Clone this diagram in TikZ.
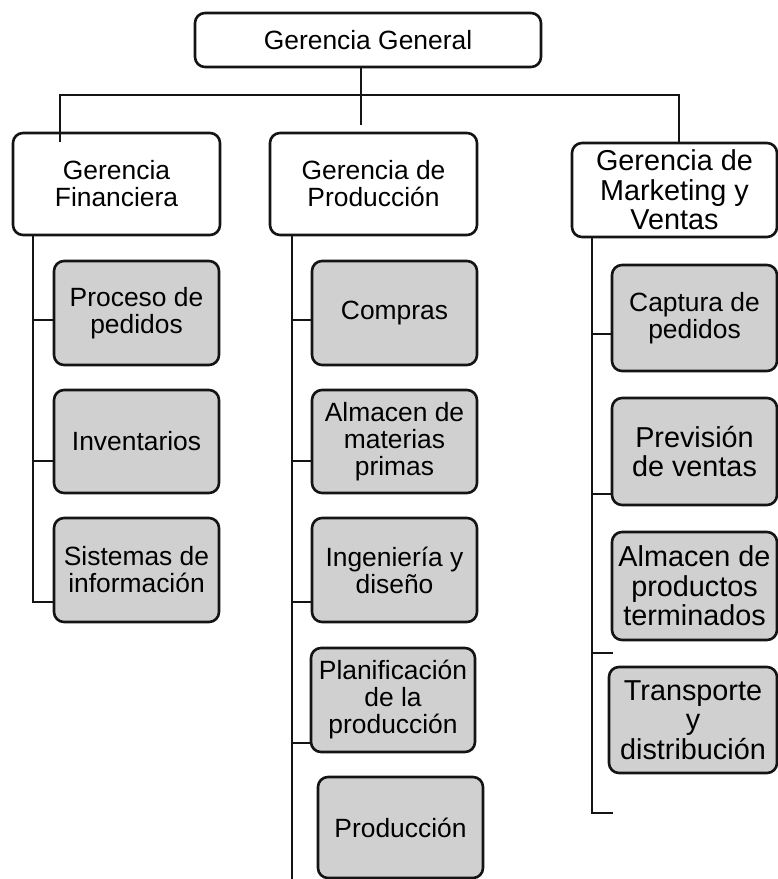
\documentclass[tikz,border=0pt]{standalone}
\usepackage{fontspec}
\setmainfont{Liberation Sans}
\definecolor{boxgray}{RGB}{208,208,208}
\definecolor{inkline}{RGB}{20,20,20}
\begin{document}
\begin{tikzpicture}[x=1pt,y=-1pt,
  hbox/.style={draw=inkline, line width=2.6pt, rounded corners=10pt, fill=white, align=center, inner sep=0pt, font=\fontsize{26.4}{27}\selectfont},
  sbox/.style={hbox, fill=boxgray},
  bigtext/.style={font=\fontsize{28.8}{29.5}\selectfont},
  thinline/.style={draw=inkline, line width=1.1pt},
  barline/.style={draw=inkline, line width=2.8pt}]
\useasboundingbox (0,0) rectangle (778,879);

% top
\node[hbox, minimum width=346pt, minimum height=54pt] (gg) at (368,40) {Gerencia General};
% level 2
\node[hbox, minimum width=207pt, minimum height=102pt] (fin) at (116.5,184) {Gerencia\\Financiera};
\node[hbox, minimum width=207pt, minimum height=102pt] (prod) at (373.5,184) {Gerencia de\\Producción};
\node[hbox, bigtext, minimum width=205pt, minimum height=94pt] (mkt) at (674.5,190) {Gerencia de\\Marketing y\\Ventas};

% financiera
\node[sbox, minimum width=165pt, minimum height=104pt] (pp) at (136.5,313) {Proceso de\\pedidos};
\node[sbox, minimum width=165pt, minimum height=103pt] (inv) at (136.5,441.5) {Inventarios};
\node[sbox, minimum width=165pt, minimum height=104pt] (sis) at (136.5,570) {Sistemas de\\información};

% produccion
\node[sbox, minimum width=165pt, minimum height=104pt] (com) at (394.5,313) {Compras};
\node[sbox, minimum width=165pt, minimum height=103pt] (alm) at (394.5,441.5) {Almacen de\\materias\\primas};
\node[sbox, minimum width=165pt, minimum height=104pt] (ing) at (394.5,570) {Ingeniería y\\diseño};
\node[sbox, minimum width=164pt, minimum height=104pt] (pla) at (393,700) {Planificación\\de la\\producción};
\node[sbox, minimum width=165pt, minimum height=101pt] (pro) at (400.5,827.5) {Producción};

% marketing
\node[sbox, minimum width=165pt, minimum height=106pt] (cap) at (694.5,318) {Captura de\\pedidos};
\node[sbox, bigtext, minimum width=165pt, minimum height=107pt] (pre) at (694.5,451.5) {Previsión\\de ventas};
\node[sbox, bigtext, minimum width=165pt, minimum height=108pt] (apt) at (694.5,586) {Almacen de\\productos\\terminados};
\node[sbox, bigtext, minimum width=168pt, minimum height=106pt] (tra) at (693,720) {Transporte\\y\\distribución};

% top connectors
\coordinate (stem) at (361,125);
\coordinate (hl) at (60,95);
\coordinate (hr) at (679,95);
\coordinate (fintop) at (60,142);
\draw[thinline] (stem |- gg.south) -- (stem);
\draw[thinline] (fintop) -- (hl) -- (hr) -- (hr |- mkt.north);

% financiera bar
\coordinate (fb) at (33,602);
\draw[barline] (fin.south -| fb) -- (fb) -- (fb -| sis.west);
\draw[barline] (33,320) -- (pp.west |- 33,320);
\draw[barline] (33,461) -- (inv.west |- 33,461);

% produccion bar
\coordinate (pb) at (292,879);
\draw[barline] (prod.south -| pb) -- (pb);
\draw[barline] (292,320) -- (com.west |- 292,320);
\draw[barline] (292,461) -- (alm.west |- 292,461);
\draw[barline] (292,602) -- (ing.west |- 292,602);
\draw[barline] (292,743) -- (pla.west |- 292,743);

% marketing bar
\coordinate (mb) at (592,813);
\coordinate (mend1) at (613,653);
\coordinate (mend2) at (613,813);
\draw[barline] (mkt.south -| mb) -- (mb) -- (mend2);
\draw[barline] (592,334) -- (cap.west |- 592,334);
\draw[barline] (592,494) -- (pre.west |- 592,494);
\draw[barline] (mend1 -| mb) -- (mend1);
\end{tikzpicture}
\end{document}
